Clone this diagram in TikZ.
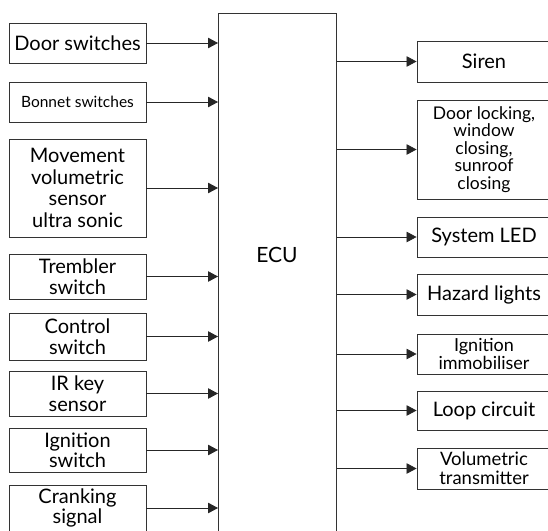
\documentclass[tikz,border=0pt]{standalone}
\usepackage{fontspec}
\setmainfont{Lato}
\usetikzlibrary{arrows.meta}
\begin{document}
\begin{tikzpicture}[x=1pt,y=-1pt,
  box/.style={draw=black!80,line width=0.9pt,minimum width=137pt,align=center,inner sep=0pt,font=\fontsize{20}{20.5}\selectfont},
  outbox/.style={box,minimum width=134pt},
  link/.style={draw=black!85,line width=0.8pt,-{Triangle[length=10pt,width=10.5pt]}}]
  \useasboundingbox (0,0) rectangle (548,530);
  \clip (0,0) rectangle (548,530);
  % ECU
  \node[box,minimum width=118pt,minimum height=560pt,anchor=north west] (ecu) at (218,13) {};
  \node[font=\fontsize{21}{22}\selectfont] (ecutext) at (277,255) {ECU};
  % inputs
  \node[box,minimum height=40pt] (door) at (77.5,43) {Door switches};
  \node[box,minimum height=40pt,font=\fontsize{15.5}{17}\selectfont] (bonnet) at (77.5,102) {Bonnet switches};
  \node[box,minimum height=98pt,font=\fontsize{20}{21.5}\selectfont] (move) at (77.5,188) {Movement\\volumetric\\sensor\\ultra sonic};
  \node[box,minimum height=45pt] (tremb) at (77.5,276.5) {Trembler\\switch};
  \node[box,minimum height=47pt] (ctrl) at (77.5,336.5) {Control\\switch};
  \node[box,minimum height=45pt] (irkey) at (77.5,393.5) {IR key\\sensor};
  \node[box,minimum height=44pt] (ignsw) at (77.5,450) {Ignition\\switch};
  \node[box,minimum height=46pt] (crank) at (77.5,508) {Cranking\\signal};
  % outputs
  \node[outbox,minimum height=41pt] (siren) at (484,61.5) {Siren};
  \node[outbox,minimum height=99pt,font=\fontsize{17.5}{17.5}\selectfont] (lock) at (484,149.5) {Door locking,\\window\\closing,\\sunroof\\closing};
  \node[outbox,minimum height=40pt] (led) at (484,237) {System LED};
  \node[outbox,minimum height=41pt] (hazard) at (484,294.5) {Hazard lights};
  \node[outbox,minimum height=40pt,font=\fontsize{18}{18}\selectfont] (immob) at (484,354) {Ignition\\immobiliser};
  \node[outbox,minimum height=39pt] (loop) at (484,410.5) {Loop circuit};
  \node[outbox,minimum height=41pt,font=\fontsize{18.5}{18.5}\selectfont] (vol) at (484,468.5) {Volumetric\\transmitter};
  % connectors
  \foreach \n in {door,bonnet,move,tremb,ctrl,irkey,ignsw,crank}
    \draw[link] (\n.east) -- (\n.east -| ecu.west);
  \foreach \n in {siren,lock,led,hazard,immob,loop,vol}
    \draw[link] (\n.west -| ecu.east) -- (\n.west);
\end{tikzpicture}
\end{document}
